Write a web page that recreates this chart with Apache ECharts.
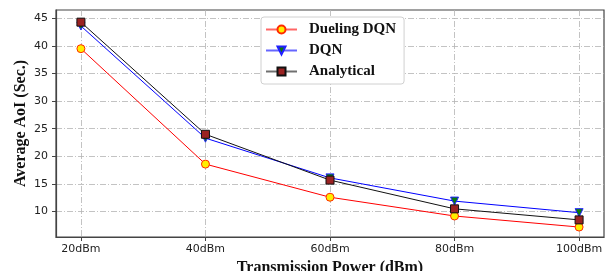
<!DOCTYPE html>
<html>
	<head>
		<meta charset="utf-8" />
		<title>Average AoI</title>
		<script src="https://cdn.jsdelivr.net/npm/echarts@6/dist/echarts.min.js"></script>
		<style>
			html, body { margin: 0; padding: 0; background: #fff; }
			#main { width: 605px; height: 271px; }
		</style>
	</head>
	<body>
		<div id="main"></div>
		<script type="text/javascript">
			// data
			var powers = [20, 40, 60, 80, 100];
			var duelingDQN = [39.5, 18.6, 12.6, 9.2, 7.2];
			var dqn = [43.6, 23.3, 16.1, 11.9, 9.8];
			var analytical = [44.3, 24.0, 15.7, 10.5, 8.5];
			var yTicks = [10, 15, 20, 25, 30, 35, 40, 45];

			function pairs(vals) {
				var out = [];
				for (var i = 0; i < powers.length; i++) out.push([powers[i], vals[i]]);
				return out;
			}

			var gridLine = { show: true, lineStyle: { color: '#b4b4b4', width: 0.8, type: [6, 2, 1, 2] } };
			var legendFont = { fontFamily: 'Liberation Serif', fontWeight: 'bold', fontSize: 15, color: '#111', padding: [0, 0, 0, 7] };

			var myChart = echarts.init(document.getElementById('main'));
			var option = {
				animation: false,
				backgroundColor: '#fff',
				grid: { left: 56, top: 10, right: 1, bottom: 34, outerBoundsMode: 'none', containLabel: false,
					show: true, borderColor: '#444', borderWidth: 1.2 },
				legend: {
					orient: 'vertical',
					left: 261, top: 17,
					itemWidth: 31, itemHeight: 10, itemGap: 6,
					padding: [5, 8, 5, 4],
					backgroundColor: '#fff', borderColor: '#d0d0d0', borderWidth: 1, borderRadius: 3,
					textStyle: legendFont,
					lineStyle: { opacity: 0.6 },
					data: ['Dueling DQN', 'DQN', 'Analytical']
				},
				xAxis: {
					type: 'value', min: 16, max: 104,
					name: 'Transmission Power (dBm)', nameLocation: 'middle', nameGap: 23, nameMoveOverlap: false,
					nameTextStyle: { fontFamily: 'Liberation Serif', fontWeight: 'bold', fontSize: 16, color: '#111' },
					axisLine: { lineStyle: { color: '#444', width: 1.2 } },
					axisTick: { show: true, length: 4, lineStyle: { color: '#444' }, customValues: powers },
					axisLabel: { customValues: powers, margin: 7, fontFamily: 'DejaVu Sans', fontSize: 11, color: '#222',
						formatter: function (v) { return v + 'dBm'; } },
					splitLine: gridLine
				},
				yAxis: {
					type: 'value', min: 5.4, max: 46.5,
					name: 'Average AoI (Sec.)', nameLocation: 'middle', nameGap: 27, nameMoveOverlap: false,
					nameTextStyle: { fontFamily: 'Liberation Serif', fontWeight: 'bold', fontSize: 16, color: '#111' },
					axisLine: { show: true, lineStyle: { color: '#444', width: 1.2 } },
					axisTick: { show: true, length: 4, lineStyle: { color: '#444' }, customValues: yTicks },
					axisLabel: { customValues: yTicks, margin: 8, fontFamily: 'DejaVu Sans', fontSize: 11, color: '#222' },
					splitLine: gridLine
				},
				series: [
					{
						name: 'Dueling DQN', type: 'line', data: pairs(duelingDQN),
						symbol: 'circle', symbolSize: 8,
						lineStyle: { color: '#ff0000', width: 1 },
						itemStyle: { color: '#ffee00', borderColor: '#ff2a00', borderWidth: 1 }
					},
					{
						name: 'DQN', type: 'line', data: pairs(dqn),
						symbol: 'triangle', symbolRotate: 180, symbolSize: 8,
						lineStyle: { color: '#0000ff', width: 1 },
						itemStyle: { color: '#0a7a0a', borderColor: '#2020ff', borderWidth: 1 }
					},
					{
						name: 'Analytical', type: 'line', data: pairs(analytical),
						symbol: 'rect', symbolSize: 8,
						lineStyle: { color: '#111', width: 1 },
						itemStyle: { color: '#9b2222', borderColor: '#111', borderWidth: 1 }
					}
				]
			};
			myChart.setOption(option);
		</script>
	</body>
</html>
